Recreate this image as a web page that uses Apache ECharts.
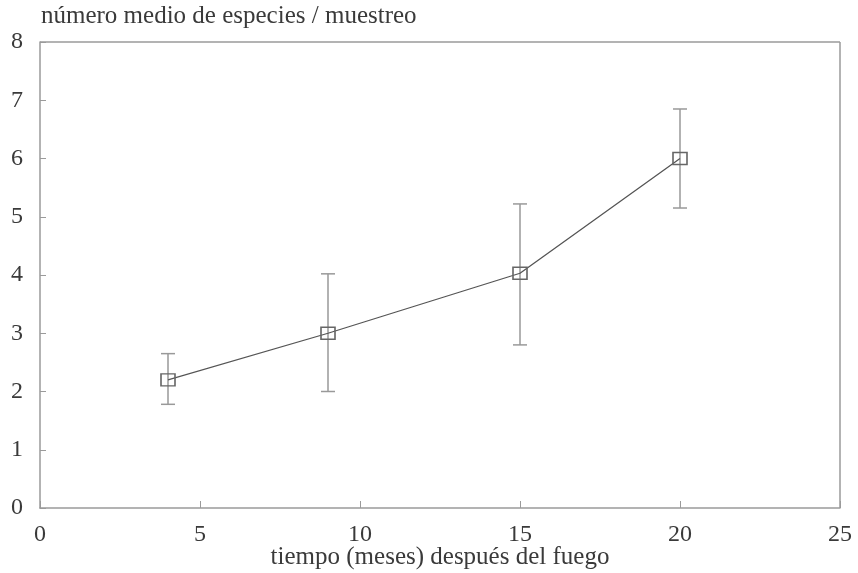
<!DOCTYPE html>
<html>
<head>
<meta charset="utf-8">
<script src="https://cdn.jsdelivr.net/npm/echarts@6/dist/echarts.min.js"></script>
<style>
  html, body { margin: 0; padding: 0; background: #fff; }
  #chart { width: 858px; height: 573px; }
</style>
</head>
<body>
<div id="chart"></div>
<script>
// Months after the fire and mean number of species per sample
const months = [4, 9, 15, 20];
const meanSpecies = [2.2, 3.0, 4.03, 6.0];
const errLow = [1.78, 2.0, 2.8, 5.15];
const errHigh = [2.65, 4.02, 5.22, 6.85];
const xTicks = [0, 5, 10, 15, 20, 25];
const yTicks = [0, 1, 2, 3, 4, 5, 6, 7, 8];

const font = '"Liberation Serif", "DejaVu Serif", serif';
const axisGray = '#9a9a9a';
const textColor = '#3a3a3a';

const chart = echarts.init(document.getElementById('chart'));

const meanPoints = months.map((m, i) => [m, meanSpecies[i]]);
const errPoints = months.map((m, i) => [m, errLow[i], errHigh[i]]);

chart.setOption({
  animation: false,
  backgroundColor: '#fff',
  title: {
    text: 'número medio de especies / muestreo',
    left: 41,
    top: 4,
    padding: 0,
    textStyle: { fontFamily: font, fontSize: 25, fontWeight: 'normal', color: textColor }
  },
  grid: {
    left: 40, right: 18, top: 42, bottom: 65,
    containLabel: false,
    outerBoundsMode: 'none'
  },
  xAxis: {
    type: 'value',
    min: xTicks[0],
    max: xTicks[xTicks.length - 1],
    interval: 5,
    name: 'tiempo (meses) después del fuego',
    nameLocation: 'middle',
    nameGap: 37,
    nameMoveOverlap: false,
    nameTextStyle: { fontFamily: font, fontSize: 25, color: textColor },
    axisLine: { show: true, lineStyle: { color: axisGray, width: 1.5 } },
    axisTick: { show: true, inside: true, length: 7, lineStyle: { color: axisGray } },
    axisLabel: { fontFamily: font, fontSize: 24, color: textColor, margin: 15 },
    splitLine: { show: false }
  },
  yAxis: {
    type: 'value',
    min: yTicks[0],
    max: yTicks[yTicks.length - 1],
    interval: 1,
    axisLine: { show: true, lineStyle: { color: axisGray, width: 1.5 } },
    axisTick: { show: true, inside: true, length: 6, lineStyle: { color: axisGray } },
    axisLabel: { fontFamily: font, fontSize: 24, color: textColor, margin: 17 },
    splitLine: { show: false }
  },
  series: [
    {
      // frame on the top and right sides
      type: 'line',
      data: [],
      markLine: {
        silent: true,
        symbol: 'none',
        label: { show: false },
        lineStyle: { color: axisGray, width: 1.5, type: 'solid' },
        data: [
          [{ coord: [0, 8] }, { coord: [25, 8] }],
          [{ coord: [25, 0] }, { coord: [25, 8] }]
        ]
      }
    },
    {
      type: 'custom',
      data: errPoints,
      z: 2,
      renderItem: function (params, api) {
        const x = api.value(0);
        const lo = api.coord([x, api.value(1)]);
        const hi = api.coord([x, api.value(2)]);
        const cap = 7;
        const style = { stroke: '#999', lineWidth: 1.5 };
        return {
          type: 'group',
          children: [
            { type: 'line', shape: { x1: lo[0], y1: lo[1], x2: hi[0], y2: hi[1] }, style: style },
            { type: 'line', shape: { x1: lo[0] - cap, y1: lo[1], x2: lo[0] + cap, y2: lo[1] }, style: style },
            { type: 'line', shape: { x1: hi[0] - cap, y1: hi[1], x2: hi[0] + cap, y2: hi[1] }, style: style }
          ]
        };
      }
    },
    {
      type: 'line',
      data: meanPoints,
      z: 3,
      symbol: 'rect',
      symbolSize: [14, 12],
      showAllSymbol: true,
      lineStyle: { color: '#555', width: 1.3 },
      itemStyle: { color: 'rgba(255,255,255,0)', borderColor: '#666', borderWidth: 1.5 }
    }
  ]
});
</script>
</body>
</html>
